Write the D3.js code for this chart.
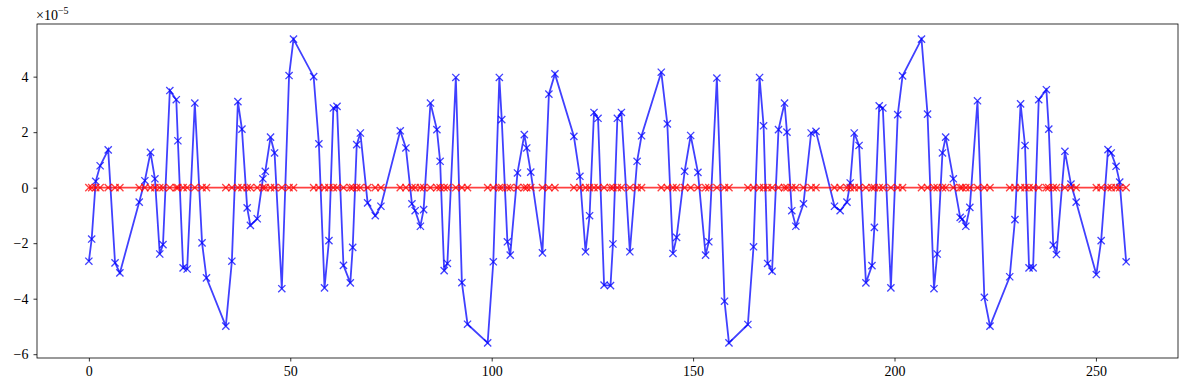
<!DOCTYPE html>
<html>
<head>
  <meta charset="utf-8">
  <script src="https://cdn.jsdelivr.net/npm/d3@7"></script>
  <style>
    body { margin: 0; background: #fff; }
    text { font-family: "Liberation Serif", "DejaVu Serif", serif; }
  </style>
</head>
<body>
<script>
  let [w, h] = [1189, 390]

  // sample positions and values (units of 1e-5)
  var xs = [0, 0.7, 1.7, 2.8, 4.8, 6.5, 7.7, 12.5, 13.9, 15.3, 16.4, 17.6, 18.4, 20.1, 21.7, 22.1, 23.4, 24.4, 26.3, 28.1,
    29.2, 34, 35.5, 37, 38, 39.3, 40.1, 41.8, 43.2, 43.8, 45.1, 46.1, 47.9, 49.7, 50.8, 55.8, 57.1, 58.5, 59.6, 60.7,
    61.6, 63.2, 64.9, 65.5, 66.5, 67.4, 69.2, 71.1, 72.5, 77.3, 78.7, 80.2, 81, 82.3, 83.1, 84.8, 86.4, 87.2, 88.2, 89,
    91.1, 92.6, 94, 99, 100.4, 101.9, 102.5, 103.9, 104.6, 106.4, 108.1, 108.7, 109.7, 112.6, 114.2, 115.7, 120.4, 121.9, 123.3, 124.3,
    125.4, 126.4, 127.9, 129.5, 130.1, 131.2, 132.2, 134.3, 136.1, 137.2, 142.1, 143.6, 145, 145.9, 147.9, 149.4, 151.2, 153.1, 153.9, 155.9,
    157.8, 158.9, 163.6, 165, 166.5, 167.5, 168.5, 169.6, 171.2, 172.7, 173.3, 174.5, 175.5, 177.4, 179.3, 180.5, 185.1, 186.5, 188.2, 189,
    190, 191.2, 192.9, 194.4, 195, 196.2, 197.1, 199.1, 200.8, 202, 206.7, 208.2, 209.8, 210.6, 211.9, 212.7, 214.6, 216.3, 216.8, 217.7,
    218.7, 220.6, 222.3, 223.7, 228.6, 229.9, 231.3, 232.4, 233.4, 234.4, 235.8, 237.7, 238.3, 239.4, 240.2, 242.3, 243.8, 245.1, 250.1, 251.3,
    253, 253.8, 255, 255.9, 257.5]

  var blueVals = [-2.65, -1.85, 0.23, 0.79, 1.36, -2.71, -3.07, -0.52, 0.25, 1.27, 0.32, -2.39, -2.05, 3.5, 3.17, 1.69, -2.89, -2.93, 3.05, -1.99,
    -3.25, -4.99, -2.65, 3.1, 2.11, -0.73, -1.36, -1.12, 0.32, 0.59, 1.82, 1.25, -3.64, 4.04, 5.35, 4.0, 1.58, -3.61, -1.91, 2.87,
    2.93, -2.8, -3.43, -2.15, 1.55, 1.97, -0.55, -1.01, -0.67, 2.05, 1.43, -0.58, -0.83, -1.39, -0.79, 3.05, 2.09, 0.95, -2.99, -2.73,
    3.97, -3.42, -4.92, -5.59, -2.67, 3.97, 2.45, -1.95, -2.43, 0.53, 1.91, 1.43, 0.56, -2.35, 3.37, 4.1, 1.85, 0.41, -2.31, -1.01,
    2.71, 2.5, -3.51, -3.53, -2.03, 2.5, 2.71, -2.31, 0.95, 1.87, 4.16, 2.3, -2.37, -1.79, 0.59, 1.88, 0.55, -2.43, -1.95, 3.95,
    -4.09, -5.59, -4.93, -2.13, 3.97, 2.23, -2.73, -3.01, 2.09, 3.05, 2.0, -0.83, -1.39, -0.58, 1.97, 2.03, -0.67, -0.83, -0.52, 0.17,
    1.97, 1.52, -3.43, -2.81, -1.43, 2.95, 2.87, -3.61, 2.63, 4.03, 5.35, 2.65, -3.64, -2.39, 1.25, 1.82, 0.32, -1.07, -1.13, -1.39,
    -0.71, 3.13, -3.95, -4.99, -3.21, -1.15, 3.02, 1.52, -2.89, -2.89, 3.17, 3.53, 2.11, -2.07, -2.41, 1.31, 0.13, -0.52, -3.13, -1.91,
    1.37, 1.25, 0.77, 0.2, -2.67]

  var redVals = xs.map(function () { return 0 })

  var xTicks = [0, 50, 100, 150, 200, 250]
  var yTicks = [-6, -4, -2, 0, 2, 4]

  var margin = { left: 37, right: 11, top: 24, bottom: 32 }

  var x = d3.scaleLinear()
    .domain([-12.875, 270.375])
    .range([margin.left, w - margin.right])
  var y = d3.scaleLinear()
    .domain([-6.137, 5.897])
    .range([h - margin.bottom, margin.top])

  var svg = d3.select("body")
    .append("svg")
    .attr("width", w)
    .attr("height", h)

  var fmt = function (d) { return d < 0 ? "\u2212" + Math.abs(d) : "" + d }

  svg.append("g")
    .attr("transform", "translate(0," + (h - margin.bottom) + ")")
    .call(d3.axisBottom(x).tickValues(xTicks).tickFormat(fmt).tickSize(3.5).tickPadding(5))
  svg.append("g")
    .attr("transform", "translate(" + margin.left + ",0)")
    .call(d3.axisLeft(y).tickValues(yTicks).tickFormat(fmt).tickSize(3.5).tickPadding(5))

  svg.selectAll(".domain").remove()
  svg.selectAll(".tick line").attr("stroke", "#000").attr("stroke-width", 0.8)
  svg.selectAll(".tick text")
    .attr("fill", "#000")
    .style("font-size", "14px")
    .style("font-family", "'Liberation Serif', serif")

  // frame
  svg.append("rect")
    .attr("x", margin.left)
    .attr("y", margin.top)
    .attr("width", w - margin.left - margin.right)
    .attr("height", h - margin.top - margin.bottom)
    .attr("fill", "none")
    .attr("stroke", "#000")
    .attr("stroke-width", 0.8)

  // offset text
  var off = svg.append("text")
    .attr("x", margin.left - 1)
    .attr("y", 20)
    .style("font-size", "14px")
  off.append("tspan").text("\u00d710")
  off.append("tspan").attr("dy", -6).style("font-size", "10px").text("\u22125")

  var plot = svg.append("g")

  function series(vals, color) {
    var pts = xs.map(function (d, i) { return [d, vals[i]] })
    var line = d3.line()
      .x(function (d) { return x(d[0]) })
      .y(function (d) { return y(d[1]) })
    var g = plot.append("g")
    g.append("path")
      .datum(pts)
      .attr("d", line)
      .attr("fill", "none")
      .attr("stroke", color)
      .attr("stroke-opacity", 0.75)
      .attr("stroke-width", 1.8)
    var s = 3.6
    g.selectAll("path.mk")
      .data(pts)
      .enter()
      .append("path")
      .attr("class", "mk")
      .attr("d", function (d) {
        var cx = x(d[0]), cy = y(d[1])
        return "M" + (cx - s) + "," + (cy - s) + "L" + (cx + s) + "," + (cy + s) +
          "M" + (cx - s) + "," + (cy + s) + "L" + (cx + s) + "," + (cy - s)
      })
      .attr("stroke", color)
      .attr("stroke-opacity", 0.75)
      .attr("stroke-width", 1.3)
  }

  series(blueVals, "#0000ff")
  series(redVals, "#ff0000")
</script>
</body>
</html>
